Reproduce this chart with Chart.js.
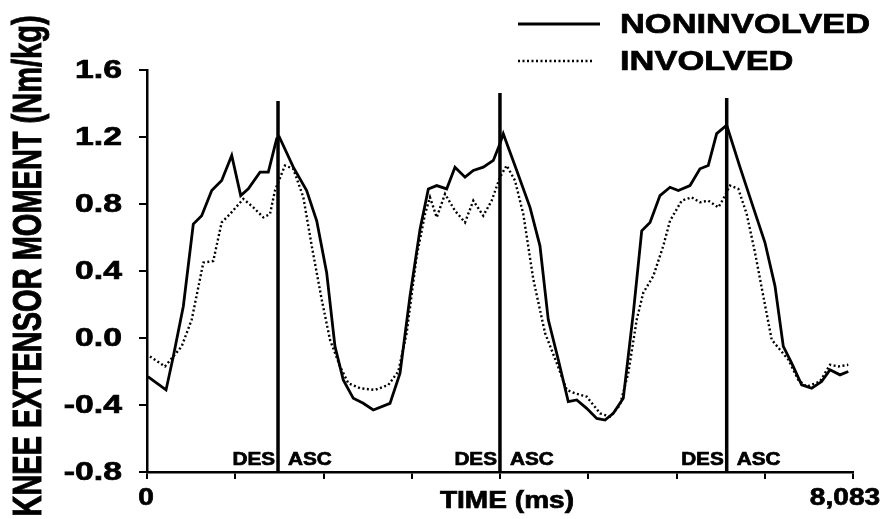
<!DOCTYPE html>
<html>
<head>
<meta charset="utf-8">
<script src="https://cdn.jsdelivr.net/npm/chart.js@4"></script>
<style>
  body { margin: 0; background: #fff; }
  #wrap { width: 883px; height: 519px; position: relative; }
</style>
</head>
<body>
<div id="wrap"><canvas id="graficoMomento"></canvas></div>
<script>
// valores (tiempo en ms, momento en Nm/kg)
const tiempoNoInv = [10, 218, 301, 416, 530, 626, 741, 855, 970, 1073, 1160, 1294, 1389, 1485, 1515, 1675, 1828, 1943, 2057, 2152,
    2247, 2362, 2476, 2591, 2782, 2897, 3011, 3126, 3221, 3317, 3431, 3526, 3641, 3736, 3850, 3965, 4041, 4079, 4233, 4385,
    4499, 4594, 4709, 4823, 4920, 5034, 5149, 5244, 5339, 5453, 5568, 5664, 5759, 5873, 5988, 6083, 6217, 6331, 6426, 6522,
    6637, 6789, 6941, 7075, 7190, 7285, 7381, 7495, 7610, 7724, 7819, 7934, 8029];
const momentoNoInv = [-0.23, -0.31, -0.11, 0.19, 0.68, 0.73, 0.88, 0.94, 1.09, 0.85, 0.89, 0.99, 0.99, 1.19, 1.2, 1.02, 0.88, 0.70, 0.39, -0.05,
    -0.25, -0.36, -0.39, -0.43, -0.39, -0.21, 0.25, 0.65, 0.89, 0.91, 0.89, 1.02, 0.96, 1.00, 1.02, 1.06, 1.16, 1.22, 1.00, 0.78,
    0.55, 0.11, -0.13, -0.38, -0.37, -0.42, -0.48, -0.49, -0.45, -0.36, 0.15, 0.64, 0.69, 0.85, 0.90, 0.88, 0.91, 1.01, 1.03, 1.22,
    1.27, 1.02, 0.78, 0.57, 0.31, -0.05, -0.15, -0.28, -0.30, -0.26, -0.19, -0.22, -0.20];

const tiempoInv = [34, 206, 301, 397, 512, 645, 759, 855, 950, 1103, 1217, 1332, 1408, 1465, 1580, 1675, 1790, 1886, 2000, 2095,
    2210, 2305, 2439, 2610, 2763, 2877, 2973, 3088, 3183, 3240, 3317, 3412, 3526, 3641, 3736, 3850, 3946, 4041, 4118, 4213,
    4308, 4423, 4557, 4691, 4805, 4900, 5034, 5187, 5301, 5415, 5510, 5607, 5682, 5797, 5911, 5988, 6122, 6236, 6331, 6426,
    6541, 6598, 6675, 6770, 6866, 6961, 7056, 7152, 7247, 7343, 7457, 7553, 7705, 7819, 7914, 8029];
const momentoInv = [-0.11, -0.17, -0.11, -0.05, 0.11, 0.45, 0.46, 0.69, 0.74, 0.83, 0.78, 0.72, 0.74, 0.88, 1.03, 1.01, 0.84, 0.55, 0.23, -0.01,
    -0.17, -0.27, -0.30, -0.31, -0.28, -0.20, 0.03, 0.49, 0.74, 0.84, 0.72, 0.86, 0.76, 0.69, 0.82, 0.73, 0.82, 0.96, 1.03, 0.94,
    0.74, 0.35, 0.03, -0.15, -0.31, -0.33, -0.35, -0.45, -0.47, -0.40, -0.21, 0.11, 0.27, 0.37, 0.55, 0.70, 0.82, 0.84, 0.81, 0.82,
    0.78, 0.83, 0.91, 0.89, 0.74, 0.51, 0.25, -0.01, -0.07, -0.13, -0.25, -0.29, -0.26, -0.16, -0.17, -0.16];

// lineas DES / ASC
const marcasTiempo = [1500, 4041, 6637];
const marcasTope = [1.415, 1.463, 1.433];

const yTicks = [-0.8, -0.4, 0.0, 0.4, 0.8, 1.2, 1.6];
const xFin = 8083;
const xTickLabels = ['0', '8,083'];
const nDivX = 8;

const FUENTE = '"Liberation Sans", Arial, sans-serif';

function texto(ctx, str, x, y, align, size, sx) {
    ctx.save();
    ctx.font = 'bold ' + size + 'px ' + FUENTE;
    ctx.fillStyle = '#000';
    ctx.strokeStyle = '#000';
    ctx.lineWidth = 0.7;
    ctx.textAlign = align;
    ctx.textBaseline = 'middle';
    ctx.translate(x, y);
    ctx.scale(sx, 1);
    ctx.fillText(str, 0, 0);
    ctx.strokeText(str, 0, 0);
    ctx.restore();
}

const capaTexto = {
    id: 'capaTexto',
    afterDraw(chart) {
        const ctx = chart.ctx;
        const x = chart.scales.x;
        const y = chart.scales.y;

        // etiquetas eje y
        yTicks.forEach(v => {
            texto(ctx, v.toFixed(1), 122, y.getPixelForValue(v) + 1, 'right', 25, 1.35);
        });

        // etiquetas eje x
        texto(ctx, xTickLabels[0], x.getPixelForValue(0) - 1, 498, 'center', 24, 1.17);
        texto(ctx, xTickLabels[1], x.getPixelForValue(xFin) - 8, 498, 'center', 24, 1.17);
        texto(ctx, 'TIME (ms)', 507, 501, 'center', 24, 1.17);

        // DES / ASC
        marcasTiempo.forEach(t => {
            const px = x.getPixelForValue(t);
            texto(ctx, 'DES', px - 3, 460, 'right', 18, 1.15);
            texto(ctx, 'ASC', px + 10, 460, 'left', 18, 1.15);
        });

        // titulo eje y
        ctx.save();
        ctx.font = 'bold 29px ' + FUENTE;
        ctx.fillStyle = '#000';
        ctx.strokeStyle = '#000';
        ctx.lineWidth = 0.7;
        ctx.textAlign = 'center';
        ctx.textBaseline = 'middle';
        ctx.translate(30, 266);
        ctx.scale(1.4, 1);
        ctx.rotate(-Math.PI / 2);
        ctx.fillText('KNEE EXTENSOR MOMENT (Nm/kg)', 0, 0);
        ctx.strokeText('KNEE EXTENSOR MOMENT (Nm/kg)', 0, 0);
        ctx.restore();

        // leyenda
        const ds = chart.data.datasets;
        [[0, 24, 600], [1, 61, 592]].forEach(([i, yy, x2]) => {
            ctx.save();
            ctx.strokeStyle = '#000';
            ctx.lineWidth = ds[i].borderWidth;
            ctx.setLineDash(ds[i].borderDash || []);
            ctx.beginPath();
            ctx.moveTo(518, yy);
            ctx.lineTo(x2, yy);
            ctx.stroke();
            ctx.restore();
            texto(ctx, ds[i].label, 620, yy + 1, 'left', 28, 1.23);
        });
    }
};

const ctx = document.getElementById('graficoMomento');

const datasets = [
    {
        label: 'NONINVOLVED',
        data: tiempoNoInv.map((t, i) => ({ x: t, y: momentoNoInv[i] })),
        borderColor: '#000',
        borderWidth: 2.8,
        pointRadius: 0,
        tension: 0,
        order: 2
    },
    {
        label: 'INVOLVED',
        data: tiempoInv.map((t, i) => ({ x: t, y: momentoInv[i] })),
        borderColor: '#000',
        borderWidth: 2.4,
        borderDash: [2, 2.5],
        pointRadius: 0,
        tension: 0,
        order: 3
    }
];

marcasTiempo.forEach((t, i) => {
    datasets.push({
        label: '',
        data: [{ x: t, y: -0.8 }, { x: t, y: marcasTope[i] }],
        borderColor: '#000',
        borderWidth: 3.5,
        pointRadius: 0,
        order: 1
    });
});

new Chart(ctx, {
    type: 'line',
    data: { datasets: datasets },
    options: {
        responsive: true,
        maintainAspectRatio: false,
        animation: false,
        layout: { padding: { top: 70, right: 30, left: 0, bottom: 0 } },
        plugins: {
            legend: { display: false },
            tooltip: { enabled: false }
        },
        scales: {
            x: {
                type: 'linear',
                min: 0,
                max: xFin,
                afterBuildTicks: scale => {
                    scale.ticks = [];
                    for (let i = 0; i <= nDivX; i++) scale.ticks.push({ value: xFin * i / nDivX });
                },
                afterFit: scale => { scale.height = 47; },
                ticks: { display: false },
                grid: { drawOnChartArea: false, drawTicks: true, tickLength: 7, color: '#000', lineWidth: 2 },
                border: { color: '#000', width: 2.5 }
            },
            y: {
                min: -0.8,
                max: 1.6,
                afterBuildTicks: scale => {
                    scale.ticks = yTicks.map(v => ({ value: v }));
                },
                afterFit: scale => { scale.width = 147; },
                ticks: { display: false },
                grid: { drawOnChartArea: false, drawTicks: true, tickLength: 8, color: '#000', lineWidth: 2 },
                border: { color: '#000', width: 2.5 }
            }
        }
    },
    plugins: [capaTexto]
});
</script>
</body>
</html>
